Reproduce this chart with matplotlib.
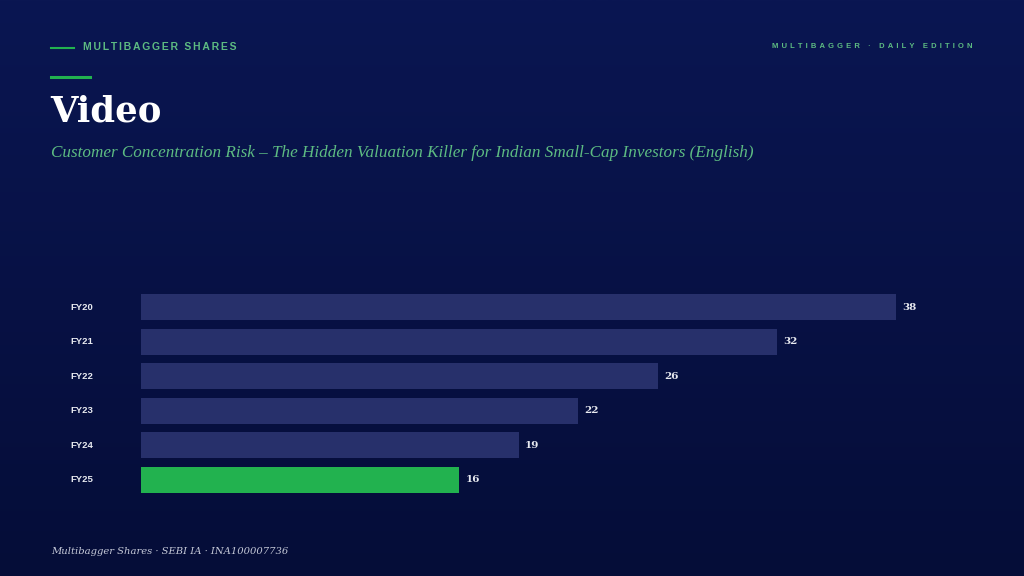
import numpy as np
import matplotlib
matplotlib.use('Agg')
import matplotlib.pyplot as plt
from matplotlib.lines import Line2D

categories = ['FY20', 'FY21', 'FY22', 'FY23', 'FY24', 'FY25']
values = [38, 32, 26, 22, 19, 16]
highlight = 'FY25'

kicker = 'MULTIBAGGER SHARES'
edition = 'MULTIBAGGER · DAILY EDITION'
title = 'Video'
subtitle = 'Customer Concentration Risk – The Hidden Valuation Killer for Indian Small-Cap Investors (English)'
footer = 'Multibagger Shares · SEBI IA · INA100007736'

W, H = 1024, 576
fig = plt.figure(figsize=(W / 100, H / 100), dpi=100)

# background gradient
bg = fig.add_axes([0, 0, 1, 1], zorder=-10)
grad = np.linspace(0, 1, 256).reshape(-1, 1)
top = np.array([10, 22, 82]) / 255
bot = np.array([5, 13, 56]) / 255
img = top[None, None, :] * (1 - grad[:, :, None]) + bot[None, None, :] * grad[:, :, None]
bg.imshow(img, aspect='auto', extent=[0, 1, 0, 1])
bg.set_axis_off()


def spaced(s, n=1):
    # fake letter spacing with hair spaces
    return ('\u200a' * n).join(s)


def fx(px):
    return px / W


def fy(py):
    return 1 - py / H


sans = ['Liberation Sans', 'DejaVu Sans']
serif = ['DejaVu Serif']
green_txt = '#5dbb82'

fig.add_artist(Line2D([fx(51), fx(74)], [fy(47.5), fy(47.5)], color='#22b24f', lw=1.5))
fig.text(fx(83), fy(47), spaced(kicker, 2), family=sans, fontsize=7.5, fontweight='bold',
         color=green_txt, va='center', ha='left')
fig.text(fx(973), fy(46), spaced(edition, 5), family=sans, fontsize=5.5, fontweight='bold',
         color=green_txt, va='center', ha='right')
fig.add_artist(Line2D([fx(51), fx(90)], [fy(76.5), fy(76.5)], color='#22b24f', lw=2.2))

fig.text(fx(50), fy(111), title, family=serif, fontsize=25.5, fontweight='bold', color='white',
         va='center', ha='left')
fig.text(fx(51), fy(153), subtitle, family=['Liberation Serif'], fontsize=12.3, style='italic',
         color=green_txt, va='center', ha='left')
fig.text(fx(51), fy(551), footer, family=serif, fontsize=7.2, style='italic', color='#c5c9d8',
         va='center', ha='left')

# bar chart
ax_left, ax_right = 141, 936
ax_top, ax_bot = 289.75, 497.25
ax = fig.add_axes([fx(ax_left), fy(ax_bot), fx(ax_right - ax_left), (ax_bot - ax_top) / H])
ax.set_facecolor('none')
ypos = np.arange(len(categories))
colors = ['#22b24f' if c == highlight else '#27306b' for c in categories]
bars = ax.barh(ypos, values, height=0.75, color=colors)
ax.set_xlim(0, 40)
ax.set_ylim(len(categories) - 0.5, -0.5)
for spine in ax.spines.values():
    spine.set_visible(False)
ax.set_xticks([])
ax.set_yticks([])
for y, v, c in zip(ypos, values, categories):
    ax.annotate(str(v), (v, y), xytext=(4.5, 0), textcoords='offset points', family=serif,
                fontsize=7.5, fontweight='bold', color='#e8eaf0', va='center', ha='left')
    ax.annotate(c, (0, y), xytext=(-71 * 0.72, 0), textcoords='offset points', family=sans,
                fontsize=6.8, fontweight='bold', color='#e8eaf0', va='center', ha='left')

fig.savefig('out.png', dpi=100)
